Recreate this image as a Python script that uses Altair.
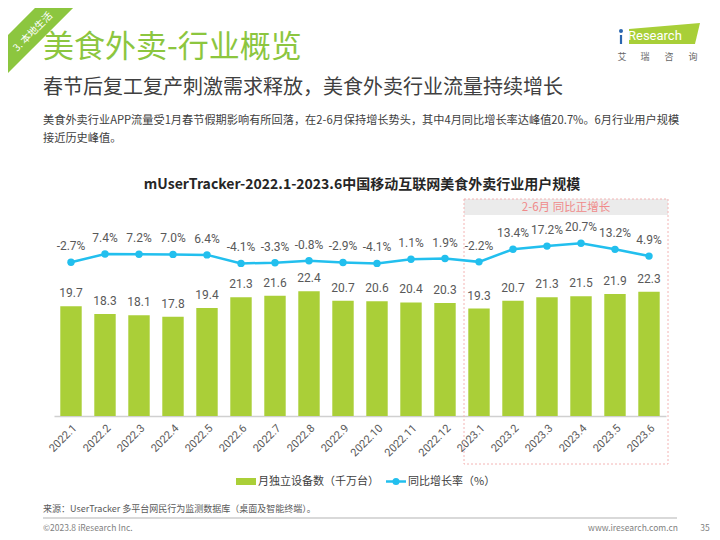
import altair as alt
import pandas as pd

# ---------------- data ----------------
months = ["2022.1", "2022.2", "2022.3", "2022.4", "2022.5", "2022.6", "2022.7", "2022.8",
          "2022.9", "2022.10", "2022.11", "2022.12", "2023.1", "2023.2", "2023.3", "2023.4",
          "2023.5", "2023.6"]
users = [19.7, 18.3, 18.1, 17.8, 19.4, 21.3, 21.6, 22.4, 20.7, 20.6, 20.4, 20.3,
         19.3, 20.7, 21.3, 21.5, 21.9, 22.3]
growth = [-2.7, 7.4, 7.2, 7.0, 6.4, -4.1, -3.3, -0.8, -2.9, -4.1, 1.1, 1.9,
          -2.2, 13.4, 17.2, 20.7, 13.2, 4.9]

series_bar = "月独立设备数（千万台）"
series_line = "同比增长率（%）"
main_title = "美食外卖-行业概览"
subtitle = "春节后复工复产刺激需求释放，美食外卖行业流量持续增长"
desc1 = "美食外卖行业APP流量受1月春节假期影响有所回落，在2-6月保持增长势头，其中4月同比增长率达峰值20.7%。6月行业用户规模"
desc2 = "接近历史峰值。"
chart_title = "mUserTracker-2022.1-2023.6中国移动互联网美食外卖行业用户规模"
box_label = "2-6月 同比正增长"
section = "3. 本地生活"
source = "来源：UserTracker 多平台网民行为监测数据库（桌面及智能终端）。"
copyright_txt = "©2023.8 iResearch Inc."
site = "www.iresearch.com.cn"
page_no = "35"

df = pd.DataFrame({
    "month": months,
    "users": users,
    "growth": growth,
    "ulabel": [f"{v:.1f}" for v in users],
    "glabel": [f"{v:.1f}%" for v in growth],
})

FONT = "Microsoft YaHei, Noto Sans CJK SC, sans-serif"
NUMFONT = "Roboto, Noto Sans CJK SC, sans-serif"
GREEN = "#8CC63F"
BAR = "#AACF38"
CYAN = "#22BFEE"
TXT = "#595959"

OX, OY = 54, 196  # page position of plot origin
W, H = 612, 220


def txt(s, x, y, size, color, weight="normal", align="left", angle=0, baseline="middle", font=FONT):
    mk = dict(align=align, baseline=baseline, fontSize=size, color=color,
              fontWeight=weight, font=font)
    if angle:
        mk["angle"] = angle
    return alt.Chart(pd.DataFrame({"t": [s]})).mark_text(**mk).encode(
        x=alt.value(x - OX), y=alt.value(y - OY), text="t:N")


def rect(x1, y1, x2, y2, **kw):
    return alt.Chart(pd.DataFrame({"a": [0]})).mark_rect(**kw).encode(
        x=alt.value(x1 - OX), x2=alt.value(x2 - OX),
        y=alt.value(y1 - OY), y2=alt.value(y2 - OY))


def rule(x1, y1, x2, y2, **kw):
    return alt.Chart(pd.DataFrame({"a": [0]})).mark_rule(**kw).encode(
        x=alt.value(x1 - OX), x2=alt.value(x2 - OX),
        y=alt.value(y1 - OY), y2=alt.value(y2 - OY))


xs = alt.Scale(domain=months, paddingInner=0.37, paddingOuter=0.185)
xaxis = alt.Axis(labelAngle=-45, labelAlign="right", labelBaseline="top",
                 labelFontSize=11, labelColor=TXT, labelFont=NUMFONT,
                 ticks=False, domainColor="#D0D0D0", domainWidth=1.5,
                 labelPadding=6, grid=False)
X = alt.X("month:N", sort=months, scale=xs, title=None, axis=xaxis)
ybar = alt.Scale(domain=[0, 39.5])
yline = alt.Scale(domain=[-192, 78.9])

base = alt.Chart(df)

bars = base.mark_bar(color=BAR).encode(
    x=X,
    y=alt.Y("users:Q", scale=ybar, axis=None),
)
bar_labels = base.mark_text(baseline="bottom", dy=-6, fontSize=12, color=TXT, font=NUMFONT).encode(
    x=X,
    y=alt.Y("users:Q", scale=ybar, axis=None),
    text="ulabel:N",
)
line = base.mark_line(color=CYAN, strokeWidth=2.5,
                      point=alt.OverlayMarkDef(color=CYAN, size=55, filled=True, opacity=1)).encode(
    x=X,
    y=alt.Y("growth:Q", scale=yline, axis=None),
)
line_labels = base.mark_text(baseline="bottom", dy=-9, fontSize=12, color=TXT, font=NUMFONT).encode(
    x=X,
    y=alt.Y("growth:Q", scale=yline, axis=None),
    text="glabel:N",
)

# decorations
box_bg = rect(464, 199, 668, 215, color="#EBEBEB")
box = rect(464, 199, 668, 464, fill="white", fillOpacity=0, stroke="#F4B4B4",
           strokeDash=[2, 2], strokeWidth=1)
box_txt = txt(box_label, 566, 207.5, 11.5, "#F08A8A", align="center")

ribbon = rule(-20, 82, 82, -20, color=GREEN, strokeWidth=27)
ribbon_txt = txt(section, 33, 32, 10, "white", align="center", angle=315)

logo_path = "M -0.986 -0.125 L 0.986 -0.29 L 0.847 0.29 L -0.986 0.29 Z"
logo = alt.Chart(pd.DataFrame({"a": [0]})).mark_point(
    shape=logo_path, size=5184, filled=True, color="#A8CF38", opacity=1).encode(
    x=alt.value(664.5 - OX), y=alt.value(33.5 - OY))
logo_dot = alt.Chart(pd.DataFrame({"a": [0]})).mark_point(
    shape="circle", size=16, filled=True, color="#2A66B0", opacity=1).encode(
    x=alt.value(621 - OX), y=alt.value(31 - OY))
logo_i = rule(621, 35, 621, 44, color="#2A66B0", strokeWidth=2.2)
logo_txt = txt("Research", 628, 36, 13, "white", font="Roboto")
logo_cn = [txt(c, x, 57, 9, "#666666", align="center")
           for c, x in zip("艾瑞咨询", [622, 645, 669, 693])]

titles = [
    txt(main_title, 43, 48, 31, GREEN),
    txt(subtitle, 43, 88, 20, "#404040"),
    txt(desc1, 43, 121, 11.2, "#404040"),
    txt(desc2, 43, 139, 11.2, "#404040"),
    txt(chart_title, 362, 185, 14, "#262626", weight="bold", align="center"),
]

legend = [
    rect(236, 478, 256, 485, color=BAR),
    txt(series_bar, 258, 481.5, 11, "#404040"),
    rule(386, 481.5, 406, 481.5, color=CYAN, strokeWidth=2.5),
    alt.Chart(pd.DataFrame({"a": [0]})).mark_point(
        shape="circle", size=50, filled=True, color=CYAN, opacity=1).encode(
        x=alt.value(396 - OX), y=alt.value(481.5 - OY)),
    txt(series_line, 408, 481.5, 11, "#404040"),
]

footer = [
    txt(source, 43, 509, 9, "#595959"),
    rule(43, 518, 677, 518, color="#D9D9D9", strokeWidth=2),
    txt(copyright_txt, 43, 528, 8.5, "#7F7F7F"),
    txt(site, 678, 528, 8.5, "#7F7F7F", align="right"),
    txt(page_no, 705, 528, 8.5, "#7F7F7F", align="center"),
]

chart = alt.layer(
    box_bg, box, box_txt,
    bars, bar_labels, line, line_labels,
    ribbon, ribbon_txt, logo, logo_dot, logo_i, logo_txt, *logo_cn,
    *titles, *legend, *footer,
).resolve_scale(y="independent").properties(
    width=W, height=H,
    autosize=alt.AutoSizeParams(type="none"),
    padding={"left": OX - 8, "top": OY - 8, "right": 704 - (OX - 8) - W, "bottom": 524 - (OY - 8) - H},
    background="white",
).configure_view(stroke=None)

chart.save("out.html", embed_options={"renderer": "svg", "actions": False})
